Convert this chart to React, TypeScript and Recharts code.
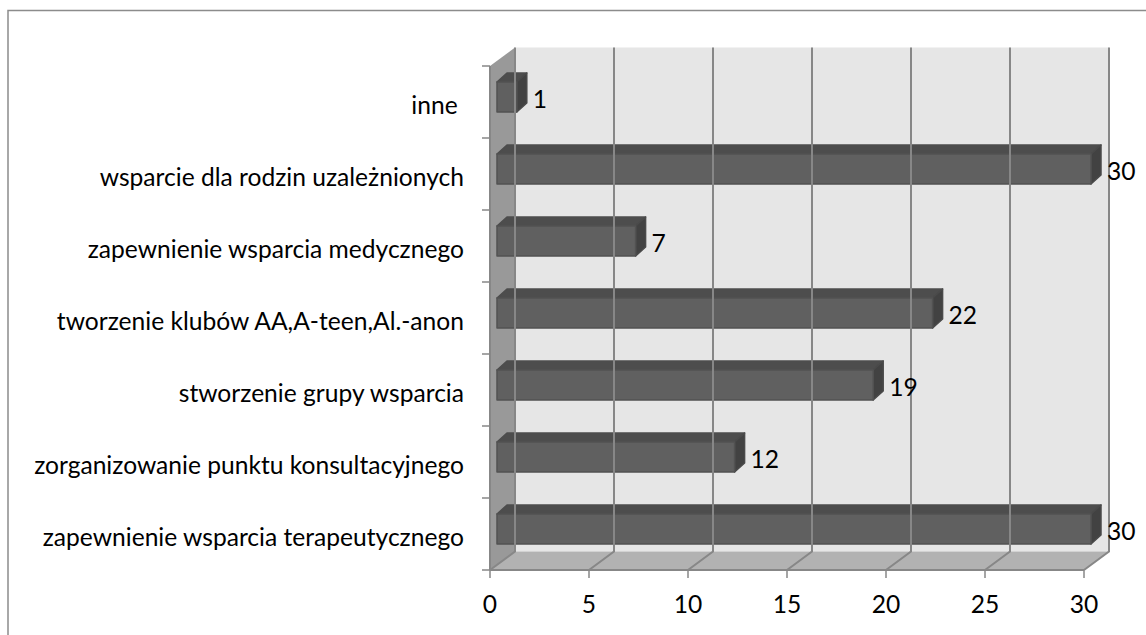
import React from 'react';
import { BarChart, Bar, XAxis, YAxis, ReferenceLine, LabelList, usePlotArea } from 'recharts';

const categories = [
  'inne ',
  'wsparcie dla rodzin uzależnionych',
  'zapewnienie wsparcia medycznego',
  'tworzenie klubów AA,A-teen,Al.-anon',
  'stworzenie grupy wsparcia',
  'zorganizowanie punktu konsultacyjnego',
  'zapewnienie wsparcia terapeutycznego',
];
const values = [1, 30, 7, 22, 19, 12, 30];
const xTicks = [0, 5, 10, 15, 20, 25, 30];
const data = categories.map((name, i) => ({ name, value: values[i] }));

const FONT = 'Lato, sans-serif';
const FS = 24.6;
const DEPTH_X = 25;
const DEPTH_Y = 18.5;
const BAR_DX = 7;
const BAR_DY = -5;
const BAR_DEPTH_X = 10;
const BAR_DEPTH_Y = 9;
const LINE = '#878787';

function Walls() {
  const p = usePlotArea();
  if (!p) return null;
  const { x, y, width, height } = p;
  const b = y + height;
  const r = x + width;
  const n = categories.length;
  return (
    <g>
      <path d="M8 635 V10.5 H1146" fill="none" stroke="#8c8c8c" strokeWidth={1.5} />
      <rect x={x + DEPTH_X} y={y - DEPTH_Y} width={width} height={height} fill="#e6e6e6" />
      <polygon
        points={`${x},${y} ${x + DEPTH_X},${y - DEPTH_Y} ${x + DEPTH_X},${b - DEPTH_Y} ${x},${b}`}
        fill="#999999"
      />
      <polygon
        points={`${x},${b} ${x + DEPTH_X},${b - DEPTH_Y} ${r + DEPTH_X},${b - DEPTH_Y} ${r},${b}`}
        fill="#b2b2b2"
      />
      {Array.from({ length: n + 1 }).map((_, i) => {
        const ty = y + (height * i) / n;
        return <line key={i} x1={x - 8} x2={x} y1={ty} y2={ty} stroke={LINE} strokeWidth={1.5} />;
      })}
    </g>
  );
}

function GridLine3D(props: any) {
  const { x1, y1, y2 } = props;
  const top = Math.min(y1, y2);
  const bot = Math.max(y1, y2);
  return (
    <polyline
      points={`${x1},${bot} ${x1 + DEPTH_X},${bot - DEPTH_Y} ${x1 + DEPTH_X},${top - DEPTH_Y}`}
      fill="none"
      stroke={LINE}
      strokeWidth={2}
    />
  );
}

function Bar3D(props: any) {
  const { x, y, width, height } = props;
  const l = x + BAR_DX;
  const t = y + BAR_DY;
  const r = l + width;
  const bt = t + height;
  const dx = BAR_DEPTH_X;
  const dy = BAR_DEPTH_Y;
  return (
    <g stroke="#525252" strokeWidth={1.5} strokeLinejoin="round">
      <polygon points={`${l},${t} ${l + dx},${t - dy} ${r + dx},${t - dy} ${r},${t}`} fill="#4d4d4d" stroke="#4d4d4d" />
      <polygon points={`${r},${t} ${r + dx},${t - dy} ${r + dx},${bt - dy} ${r},${bt}`} fill="#424242" stroke="#4a4a4a" />
      <rect x={l} y={t} width={width} height={height} fill="#606060" />
    </g>
  );
}

function ValueLabel(props: any) {
  const { x, y, width, height, value } = props;
  return (
    <text
      x={x + width + BAR_DX + 16}
      y={y + BAR_DY + height / 2 + 1}
      dominantBaseline="central"
      fontFamily={FONT}
      fontSize={FS}
      fill="#000"
    >
      {value}
    </text>
  );
}

function CategoryTick(props: any) {
  const { x, y, payload } = props;
  return (
    <text
      x={x}
      y={y + 2}
      textAnchor="end"
      dominantBaseline="central"
      fontFamily={FONT}
      fontSize={FS}
      fill="#000"
      style={{ whiteSpace: 'pre' }}
    >
      {payload.value}
    </text>
  );
}

export default function App() {
  return (
    <div style={{ position: 'absolute', left: 0, top: 0, width: 1146, height: 635, background: '#fff', overflow: 'hidden' }}>
      <BarChart
        width={1146}
        height={635}
        data={data}
        layout="vertical"
        margin={{ top: 66, right: 62, bottom: 0, left: 0 }}
        barCategoryGap={0}
      >
        <Walls />
        {xTicks.map((t) => (
          <ReferenceLine key={t} x={t} shape={GridLine3D} />
        ))}
        <XAxis
          type="number"
          domain={[0, 30]}
          ticks={xTicks}
          height={65}
          interval={0}
          axisLine={{ stroke: LINE, strokeWidth: 2 }}
          tickLine={{ stroke: LINE, strokeWidth: 1.5 }}
          tickSize={8}
          tickMargin={18}
          tick={{ fontFamily: FONT, fontSize: FS, fill: '#000' }}
        />
        <YAxis
          type="category"
          dataKey="name"
          width={490}
          interval={0}
          axisLine={{ stroke: LINE, strokeWidth: 2 }}
          tickLine={false}
          tickSize={8}
          tickMargin={18}
          tick={CategoryTick}
        />
        <Bar dataKey="value" barSize={30} isAnimationActive={false} shape={Bar3D}>
          <LabelList dataKey="value" content={ValueLabel} />
        </Bar>
      </BarChart>
    </div>
  );
}
